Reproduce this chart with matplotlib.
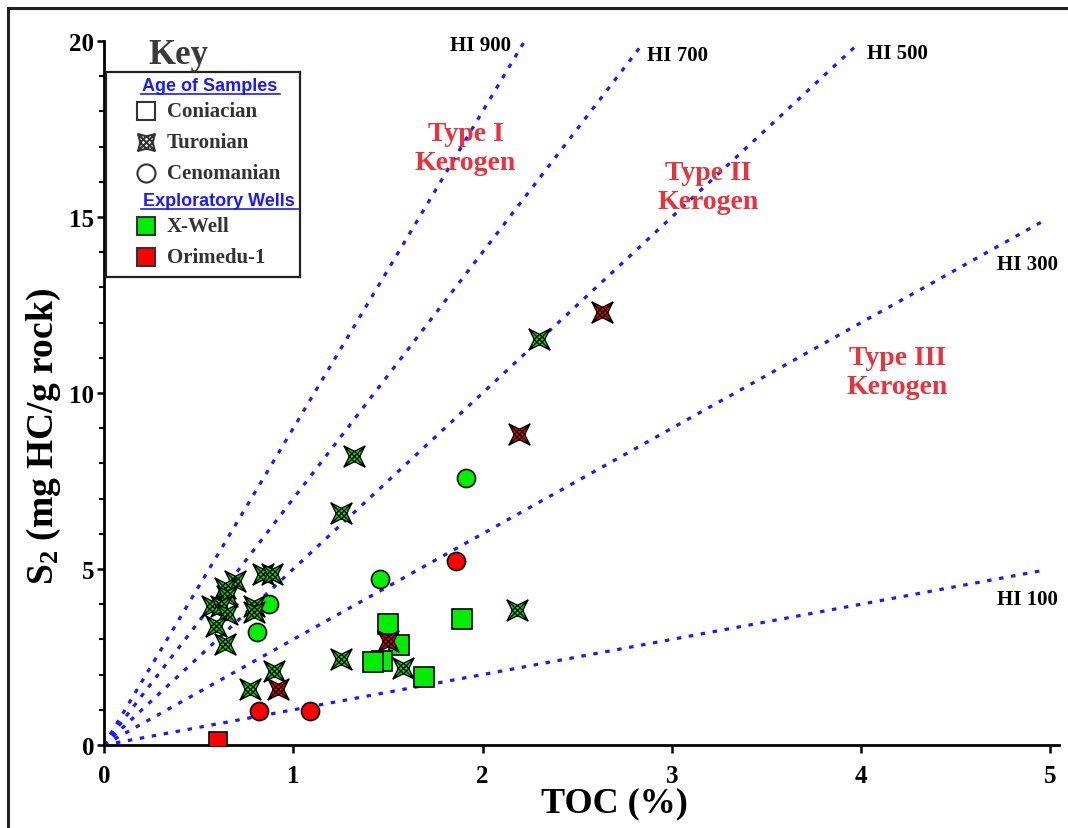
import numpy as np
import matplotlib
matplotlib.use("Agg")
import matplotlib.pyplot as plt
from matplotlib.path import Path
from matplotlib.lines import Line2D

plt.rcParams['font.family'] = ['Liberation Serif', 'DejaVu Serif']
plt.rcParams['font.weight'] = 'bold'
plt.rcParams['mathtext.fontset'] = 'custom'
plt.rcParams['mathtext.rm'] = 'Liberation Serif:bold'
plt.rcParams['mathtext.it'] = 'Liberation Serif:bold'
plt.rcParams['mathtext.bf'] = 'Liberation Serif:bold'

# ---- data (TOC %, S2 mg HC/g rock) ----
xwell_con_toc = [1.50, 1.89, 1.56, 1.47, 1.42, 1.69]
xwell_con_s2 = [3.44, 3.58, 2.84, 2.39, 2.36, 1.93]
xwell_tur_toc = [0.84, 0.89, 0.69, 0.64, 0.65, 0.57, 0.62, 0.65, 0.59, 0.64,
                 0.79, 0.79, 0.90, 0.77, 1.25, 1.58, 2.18, 1.32, 1.25, 2.30]
xwell_tur_s2 = [4.86, 4.86, 4.66, 4.45, 4.24, 3.96, 3.96, 3.72, 3.38, 2.87,
                3.96, 3.78, 2.10, 1.59, 2.44, 2.18, 3.84, 8.20, 6.60, 11.53]
xwell_cen_toc = [1.91, 1.46, 0.87, 0.81]
xwell_cen_s2 = [7.59, 4.72, 4.00, 3.21]

ori_con_toc = [0.60]
ori_con_s2 = [0.10]
ori_tur_toc = [0.92, 1.50, 2.19, 2.63]
ori_tur_s2 = [1.59, 2.95, 8.84, 12.30]
ori_cen_toc = [0.82, 1.09, 1.86]
ori_cen_s2 = [0.97, 0.97, 5.23]

# hydrogen index guide lines: HI value and TOC where the line stops
hi_values = [900, 700, 500, 300, 100]
hi_toc_end = [2.22, 2.83, 3.97, 4.95, 4.95]
hi_labels = ["HI 900", "HI 700", "HI 500", "HI 300", "HI 100"]
hi_label_pos = [(1.99, 19.9), (3.03, 19.6), (4.19, 19.65), (4.88, 13.66), (4.88, 4.15)]

kerogen_labels = ["Type I\nKerogen", "Type II\nKerogen", "Type III\nKerogen"]
kerogen_pos = [(1.91, 16.96), (3.19, 15.85), (4.19, 10.6)]

GREEN = "#00EE00"
RED = "#FF0000"
BLUE = "#1a1aff"
KRED = "#E8323C"


def star_marker(inner):
    verts = [(1, 1), (0, inner), (-1, 1), (-inner, 0), (-1, -1), (0, -inner),
             (1, -1), (inner, 0), (1, 1),
             (-1, -1), (1, 1), (-1, 1), (1, -1),
             (0, inner), (-inner, 0), (0, -inner), (inner, 0), (0, inner)]
    codes = ([Path.MOVETO] + [Path.LINETO] * 7 + [Path.CLOSEPOLY] +
             [Path.MOVETO, Path.LINETO, Path.MOVETO, Path.LINETO] +
             [Path.MOVETO] + [Path.LINETO] * 4)
    return Path(verts, codes)


tur_marker = star_marker(0.5)
key_tur_marker = star_marker(0.75)

W, H = 1068, 829
fig = plt.figure(figsize=(W / 100, H / 100), dpi=100)
ax = fig.add_axes([104 / W, 1 - 746 / H, (1059 - 104) / W, (746 - 42) / H])

for hi, xe in zip(hi_values, hi_toc_end):
    xs = np.array([0.0, xe])
    ax.plot(xs, xs * hi / 100, color=BLUE, lw=2.3, ls=(0, (1.4, 2.4)),
            dash_capstyle='butt', zorder=1)
for lab, (lx, ly) in zip(hi_labels, hi_label_pos):
    ax.text(lx, ly, lab, fontsize=15, fontweight='bold', color='black',
            ha='center', va='center', zorder=2)
for lab, (lx, ly) in zip(kerogen_labels, kerogen_pos):
    ax.text(lx, ly, lab, fontsize=20, fontweight='bold', color=KRED,
            ha='center', va='center', linespacing=1.2, zorder=2)

mk = dict(linestyle='none', markeredgecolor='black', markeredgewidth=1.2, zorder=3)
ax.plot(xwell_con_toc, xwell_con_s2, marker='s', ms=14, mfc=GREEN, **mk)
ax.plot(ori_con_toc, ori_con_s2, marker='s', ms=13, mfc=RED, **mk)
ax.plot(xwell_cen_toc, xwell_cen_s2, marker='o', ms=13, mfc=GREEN, **mk)
ax.plot(ori_cen_toc, ori_cen_s2, marker='o', ms=13, mfc=RED, **mk)
mk['markeredgewidth'] = 1.0
ax.plot(xwell_tur_toc, xwell_tur_s2, marker=tur_marker, ms=15, mfc=GREEN, **mk)
ax.plot(ori_tur_toc, ori_tur_s2, marker=tur_marker, ms=15, mfc=RED, **mk)

ax.set_xlim(0, 5.045)
ax.set_ylim(0, 20)
ax.set_xticks([0, 1, 2, 3, 4, 5])
ax.set_yticks([0, 5, 10, 15, 20])
ax.set_yticks(np.arange(0, 21, 1), minor=True)
ax.tick_params(axis='both', which='major', labelsize=18, width=1.8, direction='out')
ax.tick_params(axis='y', which='major', length=5, pad=2)
ax.tick_params(axis='y', which='minor', length=3.5, width=1.5)
ax.tick_params(axis='x', which='major', length=5.5, pad=8)
for lab in ax.get_xticklabels() + ax.get_yticklabels():
    lab.set_fontweight('bold')
for side in ['top', 'right']:
    ax.spines[side].set_visible(False)
for side in ['left', 'bottom']:
    ax.spines[side].set_linewidth(2.0)

ax.text(0.535, -0.082, "TOC (%)", transform=ax.transAxes, fontsize=26,
        fontweight='bold', ha='center', va='center')
ax.text(-0.063, 0.439, r"S$_{2}$ (mg HC/g rock)", transform=ax.transAxes,
        fontsize=27, fontweight='bold', ha='center', va='center', rotation=90)

# ---- key box ----
fig.text(178 / W, 1 - 55 / H, "Key", fontsize=25, fontweight='bold',
         color='#3a3a3a', ha='center', va='center')
kx = fig.add_axes([106 / W, 1 - 278 / H, 194 / W, 205 / H])
kx.set_xlim(0, 194)
kx.set_ylim(205, 0)
kx.set_xticks([])
kx.set_yticks([])
for s in kx.spines.values():
    s.set_linewidth(1.6)
    s.set_color('#222222')

head = dict(fontsize=13, fontweight='bold', color=BLUE, ha='center', va='center',
            family=['Liberation Sans', 'DejaVu Sans'])
kx.text(104, 14, "Age of Samples", **head)
kx.plot([35, 174], [22, 22], color=BLUE, lw=1.2)
kx.text(113, 129, "Exploratory Wells", **head)
kx.plot([35, 192], [137, 137], color=BLUE, lw=1.2)

key_items = [("Coniacian", 's', 'white', 39), ("Turonian", key_tur_marker, 'white', 70),
             ("Cenomanian", 'o', 'white', 101), ("X-Well", 's', GREEN, 154),
             ("Orimedu-1", 's', RED, 185)]
for name, m, fc, yy in key_items:
    kx.plot([40], [yy], marker=m, ms=13 if m is not key_tur_marker else 12, mfc=fc,
            mec='#333333', mew=1.5, linestyle='none')
    kx.text(61, yy, name, fontsize=15, fontweight='bold', color='#333333',
            ha='left', va='center')

# outer frame (top and left edges visible)
fig.add_artist(Line2D([8 / W, 8 / W], [0, 1 - 9 / H], color='#222222', lw=2.2))
fig.add_artist(Line2D([8 / W, 1], [1 - 9 / H, 1 - 9 / H], color='#222222', lw=2.2))

fig.savefig("out.png", dpi=100)
